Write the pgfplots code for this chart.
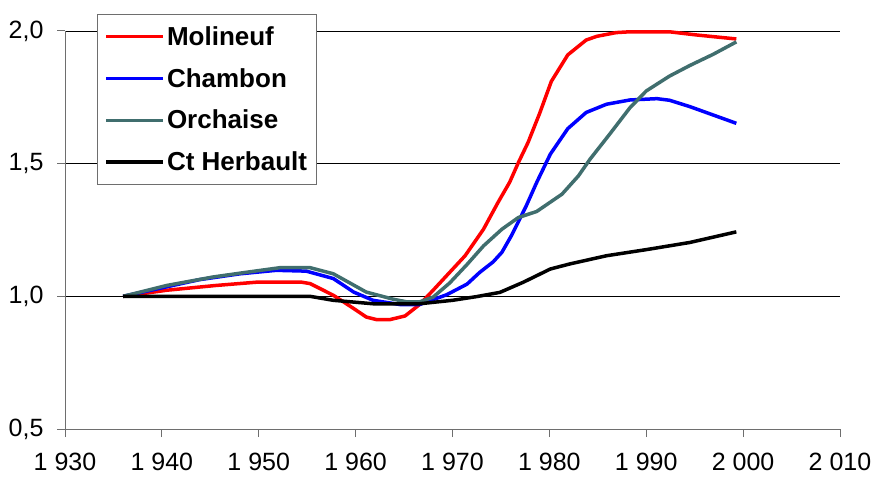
\documentclass[border=0pt]{standalone}
\usepackage{pgfplots}
\pgfplotsset{compat=1.18}
\usepackage{fontspec}
\setmainfont{Liberation Sans}
\definecolor{orch}{RGB}{64,110,110}
\definecolor{axgray}{RGB}{110,110,110}
\begin{document}
\begin{tikzpicture}
\begin{axis}[
  scale only axis,
  width=775bp, height=398bp,
  xmin=1930, xmax=2010, ymin=0.5, ymax=2.0,
  xtick={1930,1940,...,2010},
  xticklabels={1 930,1 940,1 950,1 960,1 970,1 980,1 990,2 000,2 010},
  ytick={0.5,1,1.5,2},
  yticklabels={{0,5},{1,0},{1,5},{2,0}},
  axis lines*=left,
  axis line style={axgray, line width=1bp},
  tick align=outside,
  major tick length=8bp,
  tick style={axgray, line width=1bp},
  ymajorgrids,
  grid style={black, line width=0.9bp},
  tick label style={font=\fontsize{25bp}{28bp}\selectfont},
  xticklabel style={yshift=-13bp},
  yticklabel style={xshift=-10bp},
  legend style={at={(0.0413,1.0427)}, anchor=north west,
    draw=axgray, line width=1bp, fill=white,
    font=\bfseries\fontsize{26bp}{30bp}\selectfont,
    inner xsep=7bp, inner ysep=10bp, row sep=17.5bp},
  legend cell align=left,
  legend image code/.code={\draw[#1, line width=3.5bp] (0bp,0bp) -- (57bp,0bp);},
  every axis plot/.append style={line width=3.5bp, line join=round},
]
\addplot[red, mark=none] coordinates {(1936,1.0)(1940.5,1.023)(1945.6,1.041)(1950,1.054)(1954.3,1.054)(1955.3,1.048)(1957.7,1.004)(1959.8,0.954)(1961.1,0.922)(1962.2,0.912)(1963.5,0.912)(1965.1,0.926)(1966.6,0.969)(1968,1.023)(1971.3,1.153)(1973.2,1.253)(1974.7,1.354)(1975.9,1.43)(1976.8,1.504)(1977.8,1.58)(1979,1.69)(1980.2,1.81)(1981.9,1.91)(1983.8,1.966)(1984.9,1.98)(1986.9,1.994)(1988.3,1.997)(1992.4,1.997)(1995.2,1.985)(1999.3,1.97)};
\addlegendentry{Molineuf}
\addplot[blue, mark=none] coordinates {(1936,1.0)(1943.9,1.063)(1948.1,1.085)(1951.8,1.098)(1954.9,1.095)(1957.7,1.067)(1959.8,1.016)(1961.8,0.985)(1964.6,0.969)(1966.6,0.969)(1969.4,1.006)(1971.5,1.046)(1972.8,1.09)(1974.2,1.13)(1975.1,1.166)(1976.1,1.23)(1977.6,1.34)(1978.7,1.43)(1980.1,1.536)(1981.9,1.632)(1983.8,1.693)(1985.9,1.724)(1988.3,1.74)(1991.1,1.745)(1992.4,1.739)(1994.5,1.715)(1999.3,1.652)};
\addlegendentry{Chambon}
\addplot[orch, mark=none] coordinates {(1936,1.0)(1940.5,1.041)(1945.3,1.073)(1948.4,1.089)(1952.2,1.108)(1955.3,1.108)(1957.7,1.085)(1961.1,1.016)(1963.9,0.989)(1965.3,0.979)(1966.6,0.979)(1968,0.997)(1969.7,1.05)(1971.5,1.12)(1973.2,1.19)(1975.1,1.253)(1976.8,1.297)(1978.7,1.32)(1981.3,1.385)(1983,1.454)(1984.2,1.517)(1986.2,1.61)(1988.3,1.71)(1990,1.774)(1992.4,1.83)(1994.5,1.87)(1996.9,1.912)(1999.3,1.959)};
\addlegendentry{Orchaise}
\addplot[black, mark=none] coordinates {(1936,1.0)(1955.3,1.0)(1957.7,0.985)(1961.8,0.972)(1966.6,0.972)(1970,0.985)(1972.5,0.999)(1974.9,1.015)(1977.3,1.053)(1980.1,1.103)(1982.1,1.122)(1985.9,1.153)(1990,1.176)(1994.5,1.203)(1999.3,1.243)};
\addlegendentry{Ct Herbault}
\end{axis}
\path (current axis.south west) ++(-65bp,-49bp) rectangle ++(876bp,478bp);
\end{tikzpicture}
\end{document}
